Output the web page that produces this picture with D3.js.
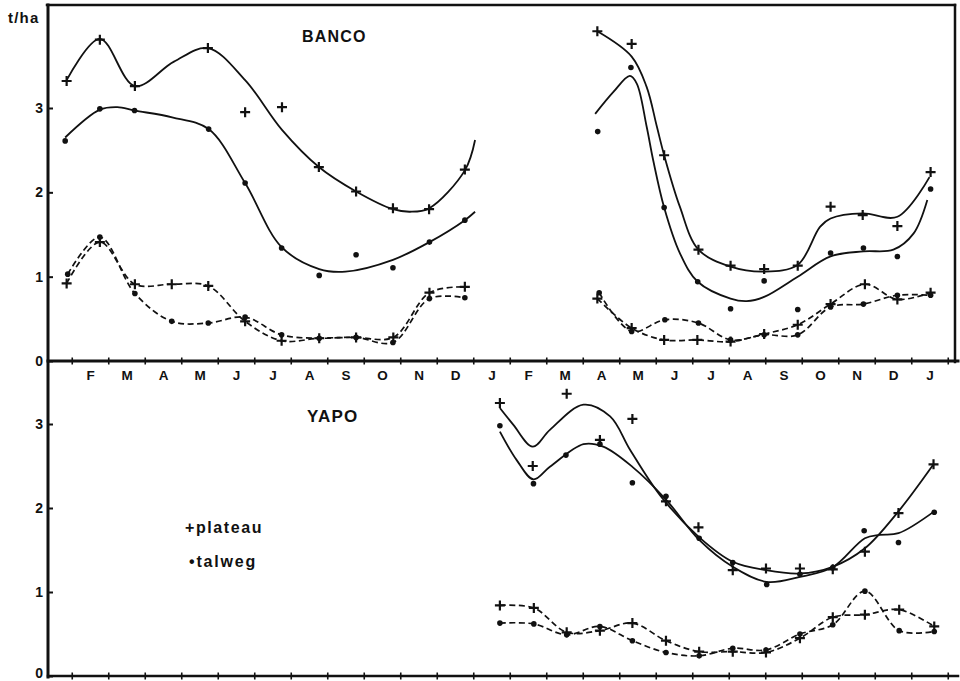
<!DOCTYPE html>
<html><head><meta charset="utf-8">
<script src="https://cdn.jsdelivr.net/npm/d3@7"></script>
<style>
html,body{margin:0;padding:0;background:#fff;}
svg{display:block;}
text{font-family:"Liberation Sans",Arial,Helvetica,sans-serif;font-weight:bold;fill:#111;}
</style></head><body>
<svg id="chart" width="960" height="681"></svg>
<script>
// ---------- tick labels ----------
const monthLabels = ["F","M","A","M","J","J","A","S","O","N","D","J","F","M","A","M","J","J","A","S","O","N","D","J"];
const yTickValues = [0, 1, 2, 3];
const yUnit = "t/ha";
const legendLabels = ["+plateau", "\u2022talweg"];

// ---------- data: [month index, t/ha] ----------
// BANCO, first year
const bancoPlateauPts1 = [[0.86,3.32],[1.77,3.81],[2.73,3.26],[4.73,3.71],[5.75,2.95],[6.76,3.01],[7.77,2.30],[8.79,2.01],[9.80,1.81],[10.79,1.80],[11.77,2.27]];
const bancoPlateauFit1 = [[0.86,3.33],[1.77,3.82],[2.73,3.26],[3.8,3.55],[4.73,3.71],[5.75,3.33],[6.76,2.74],[7.77,2.30],[8.79,2.01],[9.80,1.80],[10.27,1.77],[10.79,1.81],[11.77,2.26],[12.05,2.62]];
const bancoTalwegPts1 = [[0.82,2.61],[1.77,2.99],[2.72,2.97],[4.75,2.75],[5.75,2.11],[6.75,1.34],[7.78,1.015],[8.79,1.26],[9.80,1.105],[10.80,1.41],[11.77,1.67]];
const bancoTalwegFit1 = [[0.82,2.65],[1.77,2.98],[2.25,3.01],[2.72,2.97],[3.75,2.89],[4.75,2.75],[5.75,2.11],[6.75,1.35],[7.78,1.09],[8.5,1.06],[9.8,1.2],[10.8,1.41],[11.77,1.67],[12.05,1.77]];
const bancoPlateauLow1 = [[0.86,0.92],[1.77,1.41],[2.73,0.91],[3.74,0.91],[4.74,0.89],[5.75,0.47],[6.75,0.24],[7.78,0.27],[8.79,0.28],[9.81,0.28],[10.80,0.81],[11.77,0.88]];
const bancoTalwegLow1 = [[0.89,1.03],[1.77,1.47],[2.73,0.80],[3.74,0.47],[4.74,0.45],[5.75,0.52],[6.75,0.31],[7.78,0.27],[8.79,0.28],[9.80,0.22],[10.80,0.74],[11.77,0.75]];
// BANCO, second year
const bancoPlateauPts2 = [[15.40,3.91],[16.34,3.76],[17.23,2.44],[18.17,1.32],[19.05,1.13],[19.97,1.09],[20.89,1.13],[21.79,1.83],[22.67,1.73],[23.62,1.60],[24.53,2.24]];
const bancoPlateauFit2 = [[15.40,3.91],[16.34,3.61],[16.75,3.25],[17.03,2.78],[17.23,2.44],[17.66,1.83],[18.17,1.32],[19.05,1.12],[19.97,1.06],[20.89,1.14],[21.50,1.59],[21.79,1.69],[22.67,1.75],[23.62,1.71],[24.5,2.18]];
const bancoTalwegPts2 = [[15.41,2.72],[16.32,3.48],[17.23,1.82],[18.15,0.94],[19.05,0.62],[19.97,0.95],[20.89,0.61],[21.79,1.28],[22.69,1.34],[23.62,1.24],[24.53,2.04]];
const bancoTalwegFit2 = [[15.34,2.93],[15.84,3.19],[16.29,3.38],[16.48,3.29],[16.75,2.78],[16.93,2.38],[17.23,1.82],[17.66,1.28],[18.15,0.94],[19.05,0.74],[19.49,0.71],[19.97,0.76],[20.89,1.0],[21.79,1.24],[22.69,1.30],[23.51,1.32],[24.06,1.51],[24.44,1.91]];
const bancoPlateauLow2 = [[15.40,0.74],[16.34,0.39],[17.23,0.25],[18.14,0.25],[19.05,0.23],[19.97,0.32],[20.89,0.43],[21.79,0.675],[22.73,0.91],[23.62,0.73],[24.53,0.81]];
const bancoTalwegLow2 = [[15.45,0.81],[16.34,0.35],[17.25,0.49],[18.17,0.45],[19.05,0.25],[19.97,0.31],[20.89,0.31],[21.79,0.64],[22.69,0.675],[23.62,0.78],[24.53,0.78]];
// YAPO
const yapoPlateauPts = [[12.73,3.25],[13.63,2.50],[14.56,3.36],[15.47,2.81],[16.36,3.06],[17.28,2.08],[18.17,1.77],[19.11,1.26],[20.02,1.28],[20.95,1.28],[21.85,1.27],[22.73,1.48],[23.65,1.94],[24.61,2.52]];
const yapoPlateauFit = [[12.73,3.19],[13.10,2.99],[13.63,2.73],[14.10,2.93],[15.02,3.23],[15.75,3.09],[16.30,2.69],[17.12,2.15],[18.17,1.66],[19.11,1.36],[20.02,1.26],[20.95,1.22],[21.85,1.30],[22.73,1.52],[23.65,1.96],[24.61,2.52]];
const yapoTalwegPts = [[12.73,2.98],[13.65,2.29],[14.54,2.63],[15.47,2.76],[16.36,2.30],[17.28,2.14],[18.19,1.64],[19.11,1.35],[20.04,1.09],[20.95,1.21],[21.85,1.29],[22.71,1.73],[23.65,1.59],[24.63,1.95]];
const yapoTalwegFit = [[12.73,2.91],[13.19,2.57],[13.65,2.34],[14.10,2.49],[15.02,2.76],[15.56,2.73],[16.36,2.49],[17.28,2.10],[18.19,1.62],[19.11,1.30],[20.04,1.12],[20.95,1.18],[21.85,1.295],[22.73,1.64],[23.14,1.68],[23.65,1.70],[24.63,1.96]];
const yapoPlateauLow = [[12.73,0.84],[13.66,0.81],[14.56,0.52],[15.47,0.54],[16.36,0.63],[17.28,0.42],[18.19,0.29],[19.11,0.29],[20.02,0.28],[20.95,0.45],[21.85,0.70],[22.73,0.73],[23.67,0.79],[24.63,0.59]];
const yapoTalwegLow = [[12.73,0.63],[13.66,0.62],[14.56,0.49],[15.47,0.59],[16.36,0.42],[17.28,0.28],[18.19,0.24],[19.11,0.33],[20.02,0.31],[20.95,0.50],[21.85,0.61],[22.73,1.01],[23.67,0.54],[24.63,0.53]];

// ---------- drawing ----------
const ink = "#111";
const svg = d3.select("#chart");
const x = d3.scaleLinear().domain([0, 25]).range([35.25, 947.75]);
const yTop = d3.scaleLinear().domain([0, 3]).range([361, 108]);
const yBot = d3.scaleLinear().domain([0, 3]).range([676, 424]);

// frame lines
const frame = svg.append("g").attr("stroke", ink).attr("stroke-linecap", "square");
frame.append("line").attr("x1", 47).attr("y1", 5).attr("x2", 955).attr("y2", 5).attr("stroke-width", 2.5);
frame.append("line").attr("x1", 955).attr("y1", 5).attr("x2", 955).attr("y2", 362).attr("stroke-width", 2.5);
frame.append("line").attr("x1", 48).attr("y1", 5).attr("x2", 48).attr("y2", 677).attr("stroke-width", 3);
frame.append("line").attr("x1", 48).attr("y1", 361).attr("x2", 958).attr("y2", 361).attr("stroke-width", 3);
frame.append("line").attr("x1", 48).attr("y1", 676).attr("x2", 958).attr("y2", 676).attr("stroke-width", 2.5);

// x ticks (month boundaries) on both baselines
const tickPos = d3.range(1, 26);
[yTop(0), yBot(0)].forEach(y0 => {
  svg.append("g").attr("transform", `translate(0,${y0 - 3.5})`)
    .call(d3.axisBottom(x).tickValues(tickPos).tickSize(7).tickFormat(""))
    .call(g => { g.select(".domain").remove(); g.selectAll("line").attr("stroke", ink).attr("stroke-width", 1.6); });
});

// month labels
const labelPos = monthLabels.map((_, i) => i + 1.5);
svg.append("g").attr("transform", `translate(0,${yTop(0)})`)
  .call(d3.axisBottom(x).tickValues(labelPos).tickFormat((d, i) => monthLabels[i]).tickSize(0).tickPadding(9))
  .call(g => { g.select(".domain").remove();
    g.selectAll("text").attr("font-size", 13.5).attr("fill", ink); })
  .attr("font-family", null).attr("font-size", null);

// y axes
[yTop, yBot].forEach((ys, k) => {
  svg.append("g").attr("transform", "translate(48,0)")
    .call(d3.axisLeft(ys).tickValues(yTickValues).tickSizeInner(-5).tickSizeOuter(0).tickPadding(5).tickFormat(d3.format("d")))
    .call(g => { g.select(".domain").remove();
      g.selectAll("line").attr("stroke", ink).attr("stroke-width", 2);
      g.selectAll("text").attr("font-size", 14).attr("fill", ink)
        .attr("dy", d => (k === 1 && d === 0) ? "0.1em" : "0.32em"); })
    .attr("font-family", null).attr("font-size", null);
});

svg.append("text").attr("x", 8).attr("y", 23).attr("font-size", 15).attr("letter-spacing", 1.2).text(yUnit);
svg.append("text").attr("x", 302).attr("y", 42).attr("font-size", 16).attr("letter-spacing", 1.2).text("BANCO");
svg.append("text").attr("x", 307).attr("y", 422).attr("font-size", 17).attr("letter-spacing", 1.2).text("YAPO");
svg.append("text").attr("x", 185).attr("y", 533).attr("font-size", 16).attr("letter-spacing", 1.6).text(legendLabels[0]);
svg.append("text").attr("x", 189).attr("y", 567).attr("font-size", 16).attr("letter-spacing", 1.8).text(legendLabels[1]);

// curves
function drawCurve(data, ys, dashed) {
  const line = d3.line().x(d => x(d[0])).y(d => ys(d[1])).curve(d3.curveCatmullRom.alpha(0.5));
  svg.append("path").datum(data).attr("d", line).attr("fill", "none")
    .attr("stroke", ink).attr("stroke-width", dashed ? 1.7 : 1.8)
    .attr("stroke-dasharray", dashed ? "6,3.5" : null);
}
function drawPlus(data, ys) {
  svg.append("g").selectAll("path").data(data).join("path")
    .attr("d", d => { const cx = x(d[0]), cy = ys(d[1]); return `M${cx - 5},${cy}h10M${cx},${cy - 5}v10`; })
    .attr("stroke", ink).attr("stroke-width", 2.2).attr("fill", "none");
}
function drawDots(data, ys) {
  svg.append("g").selectAll("circle").data(data).join("circle")
    .attr("cx", d => x(d[0])).attr("cy", d => ys(d[1])).attr("r", 2.8).attr("fill", ink);
}

drawCurve(bancoPlateauFit1, yTop, false);
drawCurve(bancoTalwegFit1, yTop, false);
drawCurve(bancoPlateauLow1, yTop, true);
drawCurve(bancoTalwegLow1, yTop, true);
drawCurve(bancoPlateauFit2, yTop, false);
drawCurve(bancoTalwegFit2, yTop, false);
drawCurve(bancoPlateauLow2, yTop, true);
drawCurve(bancoTalwegLow2, yTop, true);
drawCurve(yapoPlateauFit, yBot, false);
drawCurve(yapoTalwegFit, yBot, false);
drawCurve(yapoPlateauLow, yBot, true);
drawCurve(yapoTalwegLow, yBot, true);

[bancoPlateauPts1, bancoPlateauLow1, bancoPlateauPts2, bancoPlateauLow2].forEach(d => drawPlus(d, yTop));
[bancoTalwegPts1, bancoTalwegLow1, bancoTalwegPts2, bancoTalwegLow2].forEach(d => drawDots(d, yTop));
[yapoPlateauPts, yapoPlateauLow].forEach(d => drawPlus(d, yBot));
[yapoTalwegPts, yapoTalwegLow].forEach(d => drawDots(d, yBot));
</script>
</body></html>
